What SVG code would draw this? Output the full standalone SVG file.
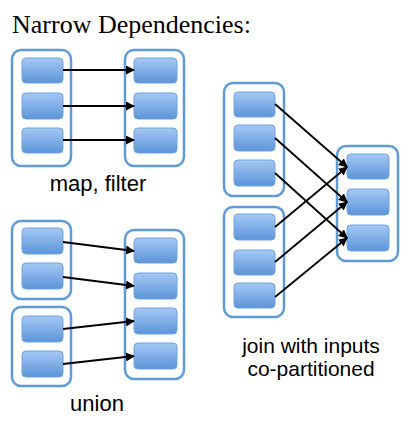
<svg xmlns="http://www.w3.org/2000/svg" width="414" height="437" viewBox="0 0 414 437">
<defs>
<linearGradient id="g" x1="0" y1="0" x2="0" y2="1">
<stop offset="0" stop-color="#a6c8f4"/>
<stop offset="1" stop-color="#5c95da"/>
</linearGradient>
<marker id="ah" viewBox="0 0 10 10" refX="9" refY="5" markerWidth="5" markerHeight="5" orient="auto" markerUnits="strokeWidth">
<path d="M0,0 L10,5 L0,10 Z" fill="#000"/>
</marker>
<style>
.c{fill:#fff;stroke:#5e9bd6;stroke-width:2.5}
.p{fill:url(#g);stroke:#6ea3dc;stroke-width:1}
.e{stroke:#000;stroke-width:1.8;fill:none;marker-end:url(#ah)}
.t{font-family:"Liberation Sans",Arial,sans-serif;font-size:22px;fill:#000;text-anchor:middle}
.j{font-size:21px}
.h{font-family:"Liberation Serif","Times New Roman",serif;font-size:26px;fill:#000}
</style>
</defs>
<rect width="414" height="437" fill="#fff"/>
<text class="h" x="12" y="33">Narrow Dependencies:</text>

<g id="map-src">
<rect class="c" x="12" y="50" width="59" height="116" rx="9"/>
<rect class="p" x="22" y="58" width="41" height="25" rx="4"/>
<rect class="p" x="22" y="93" width="41" height="26" rx="4"/>
<rect class="p" x="22" y="128" width="41" height="25" rx="4"/>
</g>
<g id="map-dst">
<rect class="c" x="125" y="50" width="59" height="116" rx="9"/>
<rect class="p" x="134" y="58" width="43" height="25" rx="4"/>
<rect class="p" x="134" y="93" width="43" height="26" rx="4"/>
<rect class="p" x="134" y="128" width="43" height="25" rx="4"/>
</g>
<text class="t" x="98" y="191">map, filter</text>

<g id="union-src1">
<rect class="c" x="12" y="221" width="59" height="78" rx="9"/>
<rect class="p" x="22" y="228" width="41" height="26" rx="4"/>
<rect class="p" x="22" y="263" width="41" height="26" rx="4"/>
</g>
<g id="union-src2">
<rect class="c" x="12" y="307" width="59" height="79" rx="9"/>
<rect class="p" x="22" y="316" width="41" height="26" rx="4"/>
<rect class="p" x="22" y="351" width="41" height="26" rx="4"/>
</g>
<g id="union-dst">
<rect class="c" x="125" y="230" width="59" height="149" rx="9"/>
<rect class="p" x="134" y="238" width="43" height="25" rx="4"/>
<rect class="p" x="134" y="273" width="43" height="26" rx="4"/>
<rect class="p" x="134" y="308" width="43" height="26" rx="4"/>
<rect class="p" x="134" y="343" width="43" height="26" rx="4"/>
</g>
<text class="t" x="97" y="411">union</text>

<g id="join-src1">
<rect class="c" x="224" y="83" width="60" height="113" rx="9"/>
<rect class="p" x="234" y="92" width="41" height="25" rx="4"/>
<rect class="p" x="234" y="125" width="41" height="26" rx="4"/>
<rect class="p" x="234" y="160" width="41" height="26" rx="4"/>
</g>
<g id="join-src2">
<rect class="c" x="224" y="207" width="60" height="110" rx="9"/>
<rect class="p" x="234" y="214" width="41" height="26" rx="4"/>
<rect class="p" x="234" y="250" width="41" height="25" rx="4"/>
<rect class="p" x="234" y="283" width="41" height="25" rx="4"/>
</g>
<g id="join-dst">
<rect class="c" x="337" y="146" width="61" height="115" rx="9"/>
<rect class="p" x="347" y="154" width="42" height="25" rx="4"/>
<rect class="p" x="347" y="189" width="42" height="26" rx="4"/>
<rect class="p" x="347" y="225" width="42" height="26" rx="4"/>
</g>
<text class="t j" x="311" y="353">join with inputs</text>
<text class="t j" x="311" y="376">co-partitioned</text>

<g id="connectors">
<line class="e" x1="63" y1="70" x2="134" y2="70"/>
<line class="e" x1="63" y1="106" x2="134" y2="106"/>
<line class="e" x1="63" y1="140" x2="134" y2="140"/>

<line class="e" x1="63" y1="242" x2="134" y2="251"/>
<line class="e" x1="63" y1="277" x2="134" y2="286"/>
<line class="e" x1="63" y1="329" x2="134" y2="321"/>
<line class="e" x1="63" y1="364" x2="134" y2="356"/>

<line class="e" x1="275" y1="104" x2="347" y2="167"/>
<line class="e" x1="275" y1="138" x2="347" y2="202"/>
<line class="e" x1="275" y1="173" x2="347" y2="238"/>
<line class="e" x1="275" y1="227" x2="347" y2="167"/>
<line class="e" x1="275" y1="262" x2="347" y2="202"/>
<line class="e" x1="275" y1="297" x2="347" y2="238"/>
</g>
</svg>
